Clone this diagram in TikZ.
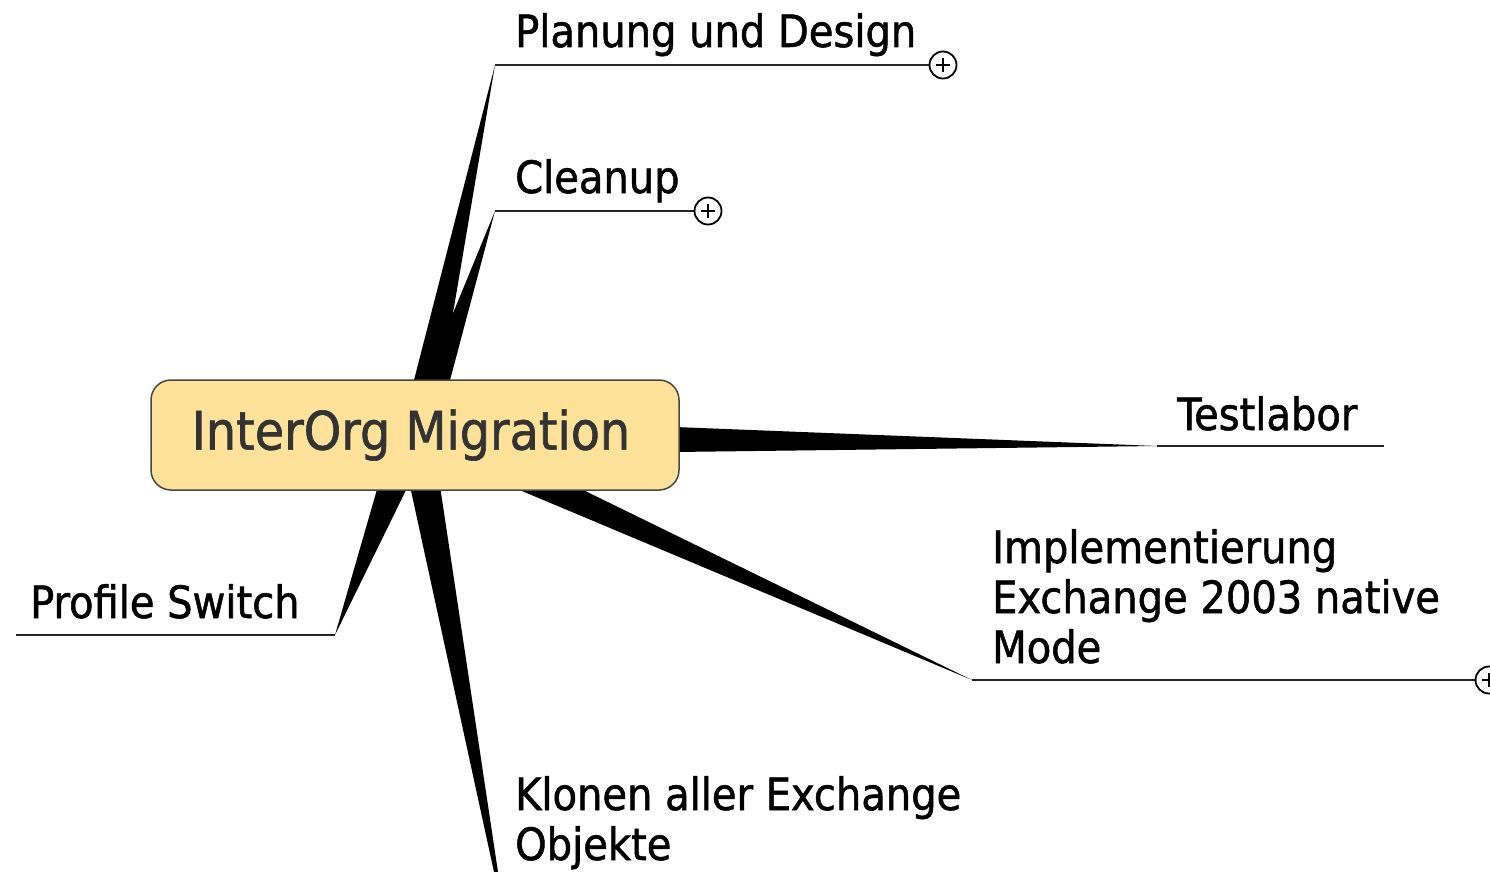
\documentclass[tikz,border=0pt]{standalone}
\usepackage{fontspec}
\setmainfont{DejaVu Sans Condensed}
\newfontfamily\mmfont{DejaVu Sans Condensed}[FakeBold=1.2]
\usetikzlibrary{backgrounds}
\definecolor{nodefill}{RGB}{254,226,153}
\definecolor{nodeline}{RGB}{70,70,70}
\definecolor{nodetext}{RGB}{51,51,51}
\begin{document}
\begin{tikzpicture}[x=1pt,y=-1pt,
  lbl/.style={anchor=base west,inner sep=0,align=left,font=\mmfont\fontsize{44.5}{50}\selectfont,text=black},
  wedge/.style={fill=black},
  ln/.style={line width=2.4pt,black!85},
  plus/.style={circle,draw,line width=1.8pt,minimum size=27pt,inner sep=0,fill=white,
    path picture={\draw[line width=1.8pt] ([xshift=-7pt]path picture bounding box.center)--([xshift=7pt]path picture bounding box.center)
      ([yshift=-7pt]path picture bounding box.center)--([yshift=7pt]path picture bounding box.center);}}]
\useasboundingbox (0,0) rectangle (1490,872);

\node[draw=nodeline,line width=1.5pt,fill=nodefill,rounded corners=20pt,minimum width=528pt,minimum height=110pt,inner sep=0,
  font=\mmfont\fontsize{53}{60}\selectfont,text=nodetext] (c) at (415,435) {\hspace*{-8pt}\raisebox{-3pt}{InterOrg Migration}};

% labels (multi-line labels are placed by the baseline of their last line)
\node[lbl] (plan) at (515,47) {Planung und Design};
\node[lbl] (clean) at (515,193) {Cleanup};
\node[lbl] (test) at (1177,430) {Testlabor};
\node[lbl] (impl) at (992,663) {Implementierung\\Exchange 2003 native\\Mode};
\node[lbl] (prof) at (30,618) {Profile Switch};
\node[lbl] (klon) at (515,860) {Klonen aller Exchange\\Objekte};

% tips and line ends
\coordinate (planT) at (495,65);
\coordinate (cleanT) at (495,211);
\coordinate (testT) at (1157,446);
\coordinate (testE) at (1384,446);
\coordinate (implT) at (972,680);
\coordinate (profT) at (335,635);
\coordinate (profE) at (16,635);
\coordinate (klonT) at (496,872);

\node[plus] (planP) at (943,65) {};
\node[plus] (cleanP) at (708,211) {};
\node[plus] (implP) at (1489,680) {};

\begin{scope}[on background layer]
  \fill[wedge] (413,384) -- (planT) -- (441,384) -- cycle;
  \fill[wedge] (424,384) -- (cleanT) -- (449,384) -- cycle;
  \fill[wedge] (675,427) -- (testT) -- (675,452) -- cycle;
  \fill[wedge] (510,486) -- (implT) -- (575,486) -- cycle;
  \fill[wedge] (378,486) -- (profT) -- (408,486) -- cycle;
  \fill[wedge] (410,486) -- ([xshift=-2pt]klonT) -- ([xshift=2pt]klonT) -- (440,486) -- cycle;
  \draw[ln] (planT) -- (planP);
  \draw[ln] (cleanT) -- (cleanP);
  \draw[ln] (testT) -- (testE);
  \draw[ln] (implT) -- (implP);
  \draw[ln] (profT) -- (profE);
\end{scope}
\end{tikzpicture}
\end{document}
